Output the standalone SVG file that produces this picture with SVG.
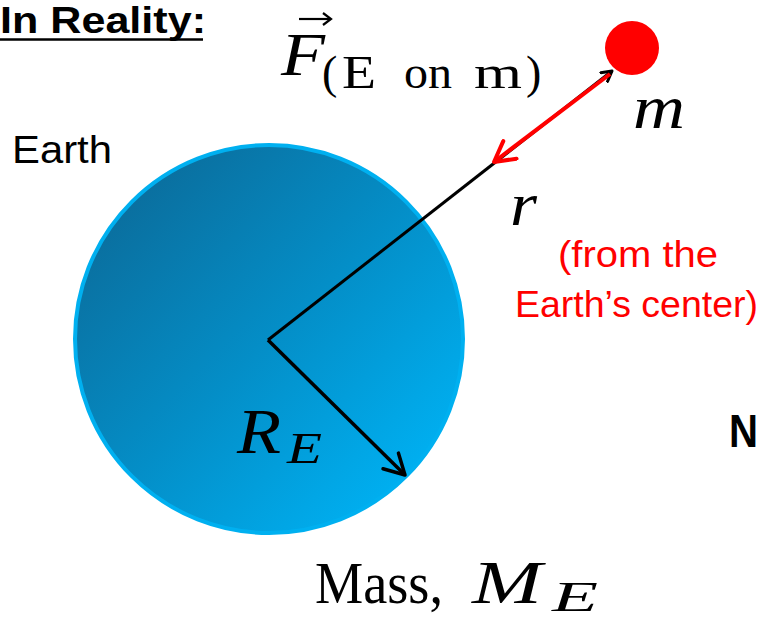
<svg xmlns="http://www.w3.org/2000/svg" width="763" height="620" viewBox="0 0 763 620">
<defs>
<linearGradient id="earthGrad" x1="0.15" y1="0.15" x2="0.85" y2="0.85">
<stop offset="0" stop-color="#0a70a0"/>
<stop offset="0.5" stop-color="#048ec7"/>
<stop offset="1" stop-color="#00aeef"/>
</linearGradient>
<marker id="blackHead" markerWidth="14" markerHeight="14" refX="11" refY="7" orient="auto" markerUnits="userSpaceOnUse" viewBox="0 0 14 14">
<path d="M1,1.5 L11,7 L1,12.5" fill="none" stroke="#000" stroke-width="3" stroke-linecap="round" stroke-linejoin="round"/>
</marker>
<marker id="redHead" markerWidth="26" markerHeight="26" refX="23" refY="13" orient="auto" markerUnits="userSpaceOnUse" viewBox="0 0 26 26">
<path d="M3,2 L23,13 L3,24" fill="none" stroke="#ff0000" stroke-width="4" stroke-linecap="round" stroke-linejoin="round"/>
</marker>
<marker id="rHead" markerWidth="26" markerHeight="26" refX="23" refY="13" orient="auto" markerUnits="userSpaceOnUse" viewBox="0 0 26 26">
<path d="M3,2 L23,13 L3,24" fill="none" stroke="#000" stroke-width="3.5" stroke-linecap="round" stroke-linejoin="round"/>
</marker>
</defs>
<style>
.math{font-family:"Liberation Serif","DejaVu Serif",serif;fill:#000}
.it{font-style:italic}
.sans{font-family:"Liberation Sans","Open Sans",sans-serif}
.red{fill:#ff0000}
</style>
<g id="title">
<text x="0" y="33" class="sans" font-size="36" font-weight="bold" textLength="206" lengthAdjust="spacingAndGlyphs">In Reality:</text>
<line x1="0" y1="39.5" x2="203" y2="39.5" stroke="#000" stroke-width="2.5"/>
</g>
<g id="earth">
<circle cx="269" cy="339" r="194" fill="url(#earthGrad)" stroke="#00b0f0" stroke-width="4"/>
<text x="12" y="163" class="sans" font-size="38" textLength="100" lengthAdjust="spacingAndGlyphs">Earth</text>
</g>
<g id="mass">
<circle cx="632" cy="48" r="27" fill="#ff0000"/>
<text x="633" y="128" class="math it" font-size="62" textLength="52" lengthAdjust="spacingAndGlyphs">m</text>
</g>
<g id="connectors">
<line x1="268" y1="340" x2="612" y2="71" stroke="#000" stroke-width="3" marker-end="url(#blackHead)"/>
<line x1="268" y1="340" x2="405" y2="475" stroke="#000" stroke-width="3.5" marker-end="url(#rHead)"/>
<line x1="610" y1="74" x2="494" y2="162" stroke="#ff0000" stroke-width="4" marker-end="url(#redHead)"/>
</g>
<g id="force-label">
<text x="281" y="75" class="math it" font-size="62" textLength="44" lengthAdjust="spacingAndGlyphs">F</text>
<line x1="299" y1="19" x2="330" y2="19" stroke="#000" stroke-width="2.2"/>
<path d="M323,13 L331,19 L323,25" fill="none" stroke="#000" stroke-width="2.2"/>
<text x="322" y="88" class="math" font-size="46">(</text>
<text x="342" y="88" class="math" font-size="46" textLength="34" lengthAdjust="spacingAndGlyphs">E</text>
<text x="404" y="88" class="math" font-size="46" textLength="48" lengthAdjust="spacingAndGlyphs">on</text>
<text x="474" y="88" class="math" font-size="46" textLength="48" lengthAdjust="spacingAndGlyphs">m</text>
<text x="526" y="88" class="math" font-size="46">)</text>
</g>
<g id="r-label">
<text x="510" y="225" class="math it" font-size="62" textLength="27" lengthAdjust="spacingAndGlyphs">r</text>
<text x="558" y="267" class="sans red" font-size="36" textLength="160" lengthAdjust="spacingAndGlyphs">(from the</text>
<text x="515" y="317" class="sans red" font-size="36" textLength="243" lengthAdjust="spacingAndGlyphs">Earth’s center)</text>
</g>
<g id="radius-label">
<text x="237" y="453" class="math it" font-size="64" textLength="44" lengthAdjust="spacingAndGlyphs">R</text>
<text x="287" y="463" class="math it" font-size="44" textLength="35" lengthAdjust="spacingAndGlyphs">E</text>
</g>
<g id="mass-label">
<text x="315" y="603" class="math" font-size="60" textLength="128" lengthAdjust="spacingAndGlyphs">Mass,</text>
<text x="472" y="603" class="math it" font-size="62" textLength="70" lengthAdjust="spacingAndGlyphs">M</text>
<text x="552" y="611" class="math it" font-size="42" textLength="46" lengthAdjust="spacingAndGlyphs">E</text>
</g>
<g id="n-label">
<text x="729" y="447" class="sans" font-size="46" font-weight="bold" textLength="29" lengthAdjust="spacingAndGlyphs">N</text>
</g>
</svg>
